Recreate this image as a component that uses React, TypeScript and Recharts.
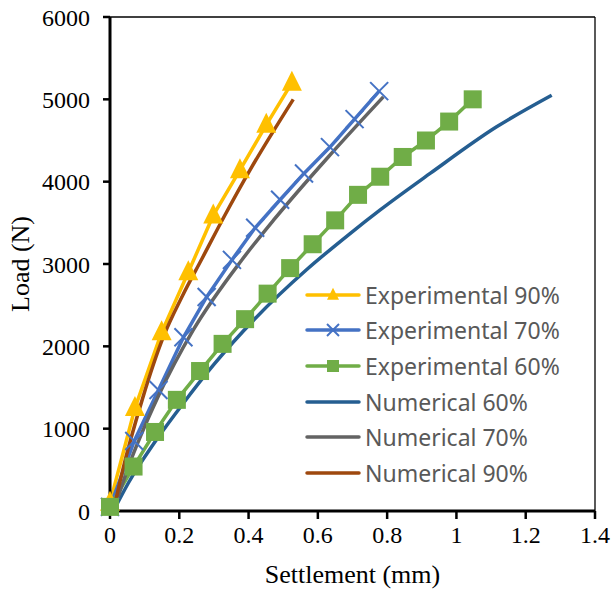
import { LineChart, Line, XAxis, YAxis, ReferenceLine } from 'recharts';

// load–settlement readings
const exp90X = [0, 0.072, 0.149, 0.226, 0.298, 0.375, 0.451, 0.525];
const exp90Y = [100, 1250, 2170, 2900, 3590, 4140, 4690, 5200];

const exp70X = [0, 0.07, 0.14, 0.212, 0.279, 0.352, 0.419, 0.491, 0.56, 0.635, 0.706, 0.777];
const exp70Y = [50, 850, 1470, 2110, 2600, 3050, 3440, 3780, 4100, 4420, 4760, 5100];

const exp60X = [0, 0.068, 0.13, 0.193, 0.26, 0.325, 0.39, 0.455, 0.52, 0.585, 0.65, 0.716, 0.78, 0.845, 0.912, 0.979, 1.047];
const exp60Y = [50, 540, 960, 1350, 1700, 2030, 2330, 2640, 2950, 3240, 3530, 3840, 4060, 4300, 4500, 4730, 5000];

const num60X = [0.01, 0.053, 0.13, 0.21, 0.3, 0.419, 0.568, 0.693, 0.779, 0.924, 1.116, 1.275];
const num60Y = [0, 340, 840, 1300, 1780, 2338, 2933, 3370, 3654, 4100, 4666, 5050];

const num70X = [0.01, 0.05, 0.14, 0.24, 0.38, 0.472, 0.63, 0.789];
const num70Y = [0, 500, 1400, 2196, 3046, 3532, 4300, 5030];

const num90X = [0.01, 0.034, 0.095, 0.154, 0.21, 0.265, 0.33, 0.404, 0.529];
const num90Y = [0, 450, 1380, 2114, 2620, 3060, 3580, 4140, 5000];

const xTicks = [0, 0.2, 0.4, 0.6, 0.8, 1, 1.2, 1.4];
const yTicks = [0, 1000, 2000, 3000, 4000, 5000, 6000];

const toPoints = (xs: number[], ys: number[]) => xs.map((x, i) => ({ x, y: ys[i] }));

type Marker = 'triangle' | 'cross' | 'square' | 'none';

const series = [
  { name: 'Experimental 90%', color: '#FFC000', marker: 'triangle' as Marker, data: toPoints(exp90X, exp90Y), curve: 'linear' },
  { name: 'Experimental 70%', color: '#4472C4', marker: 'cross' as Marker, data: toPoints(exp70X, exp70Y), curve: 'linear' },
  { name: 'Experimental 60%', color: '#70AD47', marker: 'square' as Marker, data: toPoints(exp60X, exp60Y), curve: 'linear' },
  { name: 'Numerical 60%', color: '#255E91', marker: 'none' as Marker, data: toPoints(num60X, num60Y), curve: 'monotone' },
  { name: 'Numerical 70%', color: '#636363', marker: 'none' as Marker, data: toPoints(num70X, num70Y), curve: 'monotone' },
  { name: 'Numerical 90%', color: '#9E480E', marker: 'none' as Marker, data: toPoints(num90X, num90Y), curve: 'monotone' },
];

const serif = '"Liberation Serif", "Times New Roman", serif';

function markerShape(marker: Marker, cx: number, cy: number, color: string, s: number, key?: string) {
  if (marker === 'triangle') {
    const h = s;
    return (
      <polygon key={key} points={`${cx},${cy - h * 0.6} ${cx + s / 2},${cy + h * 0.4} ${cx - s / 2},${cy + h * 0.4}`} fill={color} />
    );
  }
  if (marker === 'square') {
    return <rect key={key} x={cx - s / 2} y={cy - s / 2} width={s} height={s} fill={color} />;
  }
  if (marker === 'cross') {
    const r = s / 2;
    return (
      <g key={key} stroke={color} strokeWidth={2}>
        <line x1={cx - r} y1={cy - r} x2={cx + r} y2={cy + r} />
        <line x1={cx - r} y1={cy + r} x2={cx + r} y2={cy - r} />
      </g>
    );
  }
  return <g key={key} />;
}

function makeDot(marker: Marker, color: string) {
  const size = marker === 'triangle' ? 20 : 18;
  return (props: any) => markerShape(marker, props.cx, props.cy, color, size, `dot-${props.index}`);
}

function LegendBox() {
  return (
    <div
      style={{
        position: 'absolute',
        left: 305,
        top: 277,
        fontFamily: '"Noto Sans", sans-serif',
        fontSize: 23,
        color: '#595959',
      }}
    >
      {series.map((s) => (
        <div key={s.name} style={{ display: 'flex', alignItems: 'center', height: 35.6, whiteSpace: 'nowrap' }}>
          <svg width={58} height={20} style={{ marginRight: 2 }}>
            <line x1={2} y1={10} x2={54} y2={10} stroke={s.color} strokeWidth={3.5} strokeLinecap="round" />
            {markerShape(s.marker, 28, 10, s.color, 12)}
          </svg>
          <span>{s.name}</span>
        </div>
      ))}
    </div>
  );
}

export default function App() {
  return (
    <div style={{ position: 'relative', width: 612, height: 589 }}>
      <style>{'body { margin: 0; }'}</style>
      <LineChart width={612} height={589} margin={{ top: 17, right: 17, left: 0, bottom: 0 }}>
        <XAxis
          dataKey="x"
          type="number"
          domain={[0, 1.4]}
          ticks={xTicks}
          height={78}
          axisLine={{ stroke: '#000', strokeWidth: 3 }}
          tickLine={{ stroke: '#000', strokeWidth: 2.5 }}
          tickSize={8}
          tickMargin={7}
          tick={{ fill: '#000', fontSize: 24, fontFamily: serif }}
          label={{ value: 'Settlement (mm)', position: 'insideBottom', offset: 6, fill: '#000', fontSize: 26, fontFamily: serif }}
        />
        <YAxis
          type="number"
          domain={[0, 6000]}
          ticks={yTicks}
          width={110}
          axisLine={{ stroke: '#000', strokeWidth: 3 }}
          tickLine={{ stroke: '#000', strokeWidth: 2.5 }}
          tickSize={7}
          tickMargin={13}
          tick={{ fill: '#000', fontSize: 24, fontFamily: serif }}
          label={{ value: 'Load (N)', angle: -90, position: 'insideLeft', offset: 20, fill: '#000', fontSize: 26, fontFamily: serif, style: { textAnchor: 'middle' } }}
        />
        <ReferenceLine y={6000} stroke="#000" strokeWidth={1.3} />
        <ReferenceLine x={1.4} stroke="#000" strokeWidth={1.3} />
        {series.map((s) => (
          <Line
            key={s.name}
            data={s.data}
            dataKey="y"
            name={s.name}
            type={s.curve as any}
            stroke={s.color}
            strokeWidth={3.5}
            dot={s.marker === 'none' ? false : makeDot(s.marker, s.color)}
            activeDot={false}
            isAnimationActive={false}
          />
        ))}
      </LineChart>
      <LegendBox />
    </div>
  );
}
